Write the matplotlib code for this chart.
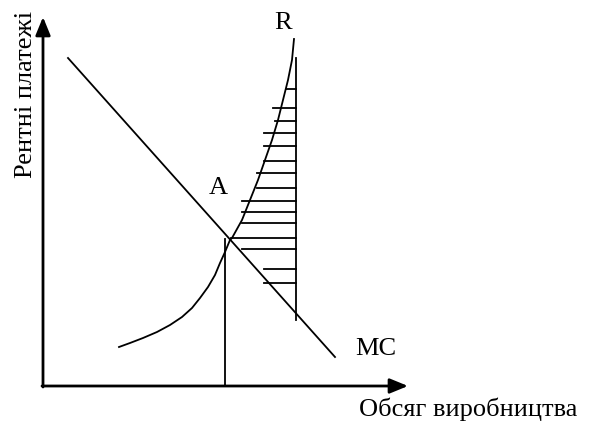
import numpy as np
import matplotlib.pyplot as plt

# ---------------- DATA (pixel units, y down) ----------------
mc_x = [68, 335]
mc_y = [58, 357]

r_x = [119, 130, 143, 157, 170, 182, 192, 200, 208, 215, 220, 225, 230,
       232, 242, 250, 258, 265, 272, 278, 283, 288, 292, 294]
r_y = [347, 343, 338, 332, 325, 317, 308, 298, 287, 275, 263, 252, 240,
       238, 220, 200, 180, 160, 140, 120, 100, 80, 60, 39]

hatch_y = [89, 108, 121, 133, 146, 161, 173, 188, 201, 212, 223, 238, 249, 269, 283]
hatch_left = [286, 273, 275, 264, 264, 264, 257, 257, 242, 242, 242, 231, 242, 264, 264]
hatch_right = 296

q_a = 225          # output at point A
q_max = 296        # right border of the shaded area

labels = {
    "y": "Рентні платежі",
    "x": "Обсяг виробництва",
    "R": "R",
    "A": "A",
    "MC": "MC",
}

# ---------------- FIGURE ----------------
W, H = 592, 428
fig = plt.figure(figsize=(W / 100, H / 100), dpi=100)
ax = fig.add_axes([0, 0, 1, 1])
ax.set_xlim(0, W)
ax.set_ylim(H, 0)
ax.axis("off")

plt.rcParams['font.family'] = ['Liberation Serif', 'DejaVu Serif']
FS = 19

# axes with arrows
arrow = dict(arrowstyle='-|>,head_length=1.1,head_width=0.45', lw=2, color='black',
             mutation_scale=10, shrinkA=0, shrinkB=0)
ax.annotate('', xy=(43, 17), xytext=(43, 387), arrowprops=arrow)
ax.annotate('', xy=(408, 386), xytext=(42, 386), arrowprops=arrow)

# MC line and R curve
ax.plot(mc_x, mc_y, color='black', lw=1.3)
ax.plot(r_x, r_y, color='black', lw=1.3, solid_joinstyle='round')

# verticals
ax.plot([q_a, q_a], [239, 386], color='black', lw=1.3)
ax.plot([q_max, q_max], [58, 320], color='black', lw=1.3)

# hatching
for y, xl in zip(hatch_y, hatch_left):
    ax.plot([xl, hatch_right], [y, y], color='black', lw=1.3)

# text
ax.text(26, 94, labels["y"], rotation=90, ha='center', va='center', fontsize=FS)
ax.text(468, 409, labels["x"], ha='center', va='center', fontsize=FS)
ax.text(283, 23, labels["R"], ha='center', va='center', fontsize=FS)
ax.text(218, 188, labels["A"], ha='center', va='center', fontsize=FS)
ax.text(376, 349, labels["MC"], ha='center', va='center', fontsize=FS)

fig.savefig("out.png", dpi=100, facecolor='white')
